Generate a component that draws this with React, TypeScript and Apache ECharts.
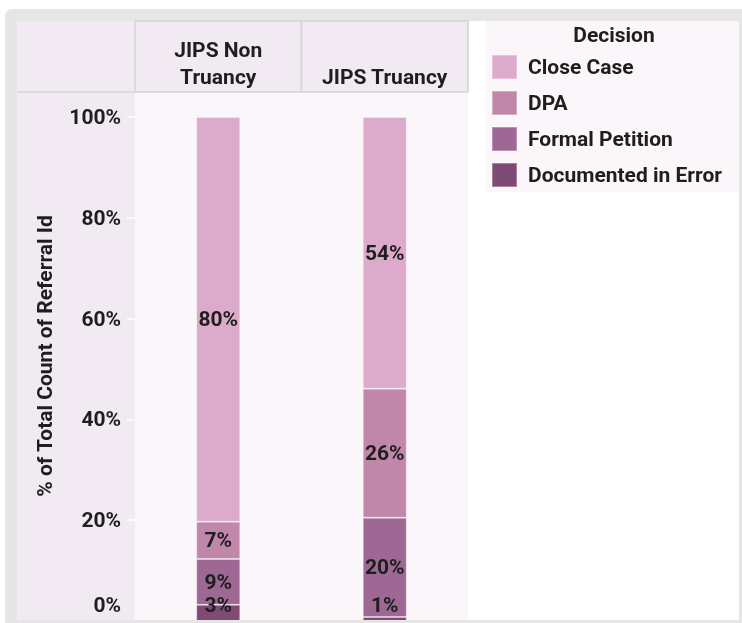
import React, { useEffect, useRef } from "react";
import * as echarts from "echarts";

const categories = ["JIPS Non Truancy", "JIPS Truancy"];
const headerLabels = ["JIPS Non\nTruancy", "JIPS Truancy"];
const decisions = ["Close Case", "DPA", "Formal Petition", "Documented in Error"];
const closeCase = [80.3, 53.9];
const dpa = [7.4, 25.6];
const formalPetition = [9.1, 19.7];
const documentedInError = [3.2, 0.8];
const yTicks = [0, 20, 40, 60, 80, 100];
const colors = ["#dcaacb", "#c087ab", "#9d6893", "#7f4b75"];

const FONT = "Roboto";
const TXT = "#1e1e1e";

export default function App() {
  const ref = useRef<HTMLDivElement>(null);
  useEffect(() => {
    if (!ref.current) return;
    const chart = echarts.init(ref.current, null, { renderer: "svg" });
    const seriesData = [documentedInError, formalPetition, dpa, closeCase];
    const seriesNames = ["Documented in Error", "Formal Petition", "DPA", "Close Case"];
    const seriesColors = [colors[3], colors[2], colors[1], colors[0]];
    const series = seriesData.map((d, i) => ({
      name: seriesNames[i],
      type: "bar",
      stack: "total",
      barWidth: 44,
      data: d,
      itemStyle: { color: seriesColors[i], borderColor: "rgba(255,255,255,0.3)", borderWidth: 1 },
      label: {
        show: true,
        position: i === 0 ? "insideBottom" : "inside",
        distance: 6,
        formatter: (p: any) => Math.round(p.value) + "%",
        color: TXT,
        fontFamily: FONT,
        fontWeight: "bold",
        fontSize: 21,
      },
    }));
    const plotLeft = 135;
    const plotRight = 468;
    const colW = (plotRight - plotLeft) / categories.length;
    const headerGraphics: any[] = [];
    categories.forEach((c, i) => {
      headerGraphics.push({
        type: "rect",
        z: -5,
        shape: { x: plotLeft + i * colW, y: 21, width: colW, height: 71 },
        style: { fill: "#f1eaf2", stroke: "#d4d4d4", lineWidth: 1.5 },
      });
      headerGraphics.push({
        type: "text",
        z: -4,
        x: plotLeft + i * colW + colW / 2,
        y: 90,
        style: {
          text: headerLabels[i],
          align: "center",
          verticalAlign: "bottom",
          fontFamily: FONT,
          fontWeight: "bold",
          fontSize: 21,
          lineHeight: 27,
          fill: TXT,
        },
      });
    });
    chart.setOption({
      animation: false,
      graphic: [
        { type: "rect", z: -20, shape: { x: 0, y: 0, width: 742, height: 623 }, style: { fill: "#ffffff" } },
        { type: "rect", z: -19, shape: { x: 5, y: 9, width: 737, height: 614, r: [7, 0, 0, 0] }, style: { fill: "#e6e6e6" } },
        { type: "rect", z: -18, shape: { x: 17, y: 21, width: 722, height: 599 }, style: { fill: "#ffffff" } },
        { type: "rect", z: -17, shape: { x: 17, y: 21, width: 118, height: 599 }, style: { fill: "#f1eaf2" } },
        { type: "rect", z: -17, shape: { x: 135, y: 92, width: 333, height: 528 }, style: { fill: "#fbf6fa" } },
        { type: "rect", z: -17, shape: { x: 486, y: 21, width: 253, height: 171 }, style: { fill: "#fbf6fa" } },
        { type: "line", z: -4, shape: { x1: 17, y1: 92, x2: 135, y2: 92 }, style: { stroke: "#d4d4d4", lineWidth: 1.5 } },
        ...headerGraphics,
        {
          type: "text",
          z: -4,
          x: 614,
          y: 35,
          style: {
            text: "Decision",
            align: "center",
            verticalAlign: "middle",
            fontFamily: FONT,
            fontWeight: "bold",
            fontSize: 21,
            fill: TXT,
          },
        },
        { type: "rect", z: 100, shape: { x: 5, y: 620, width: 737, height: 3 }, style: { fill: "#e6e6e6" } },
      ],
      legend: {
        orient: "vertical",
        left: 491,
        top: 54,
        padding: 0,
        itemWidth: 25,
        itemHeight: 24,
        itemGap: 10,
        icon: "rect",
        data: decisions,
        textStyle: {
          color: TXT,
          fontFamily: FONT,
          fontWeight: "bold",
          fontSize: 21,
          padding: [0, 0, 0, 6],
        },
      },
      grid: { left: plotLeft, right: 742 - plotRight, top: 117, bottom: 2, containLabel: false },
      xAxis: {
        type: "category",
        data: categories,
        axisLine: { show: false },
        axisTick: { show: false },
        axisLabel: { show: false },
      },
      yAxis: {
        type: "value",
        min: 0,
        max: 100,
        interval: 20,
        name: "% of Total Count of Referral Id",
        nameLocation: "middle",
        nameRotate: 90,
        nameGap: 80,
        nameTextStyle: {
          color: TXT,
          fontFamily: FONT,
          fontWeight: "bold",
          fontSize: 21,
          padding: [0, 0, 0, 26],
        },
        axisLine: { show: false },
        axisTick: { show: true, length: 8, lineStyle: { color: "#ffffff", width: 1.5 } },
        splitLine: { show: false },
        axisLabel: {
          margin: 14,
          color: TXT,
          fontFamily: FONT,
          fontWeight: "bold",
          fontSize: 21,
          formatter: (v: number) => (v === yTicks[0] ? "{z|" + v + "%}" : v + "%"),
          rich: {
            z: {
              color: TXT,
              fontFamily: FONT,
              fontWeight: "bold",
              fontSize: 21,
              padding: [0, 0, 32, 0],
            },
          },
        },
      },
      series,
    });
    return () => chart.dispose();
  }, []);
  return (
    <div
      ref={ref}
      style={{ position: "fixed", left: 0, top: 0, width: 742, height: 623 }}
    />
  );
}
